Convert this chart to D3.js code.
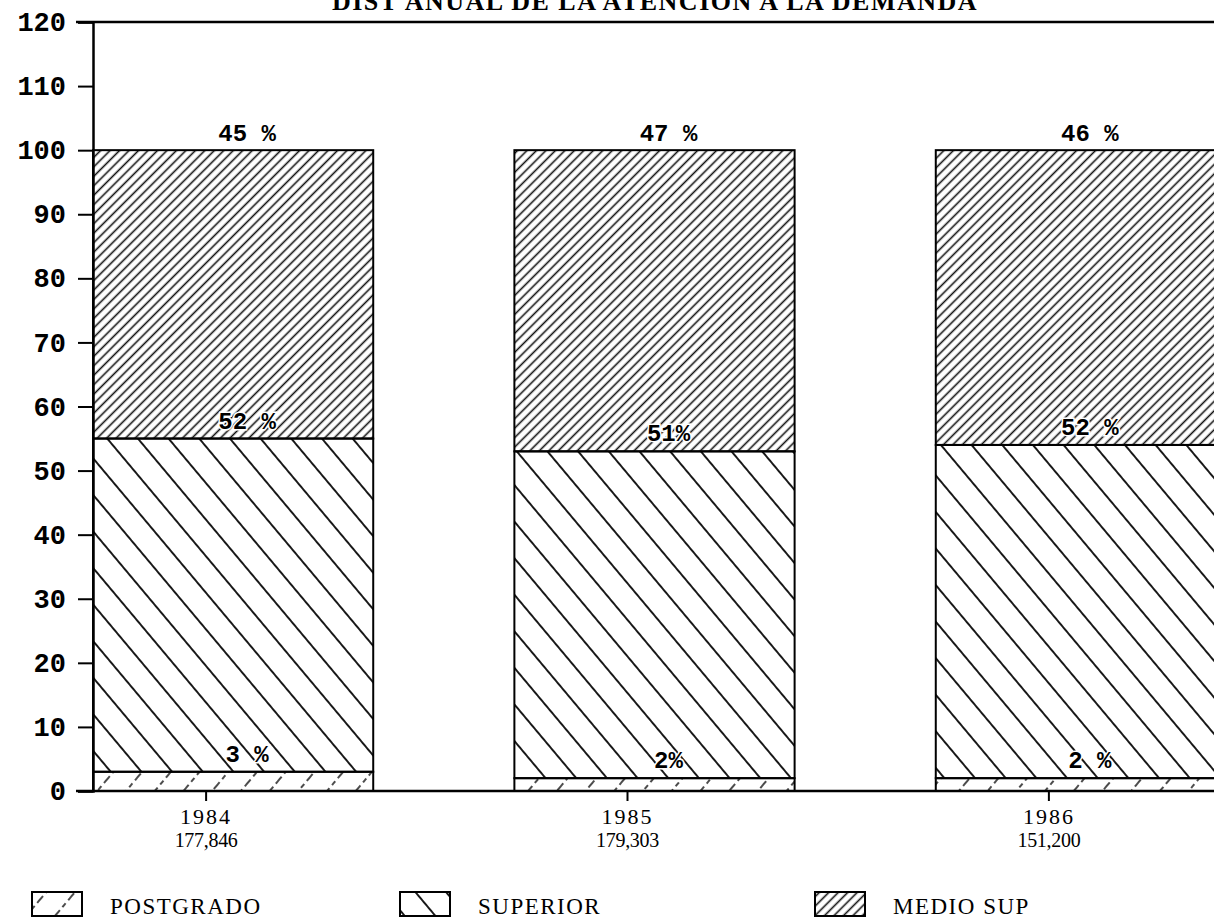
<!DOCTYPE html>
<html>
<head>
<meta charset="utf-8">
<script src="https://cdn.jsdelivr.net/npm/d3@7"></script>
<style>
  body { margin: 0; background: #fff; }
  svg { display: block; }
</style>
</head>
<body>
<svg id="chart" width="1214" height="919"></svg>
<script>
// data
const years = ["1984", "1985", "1986"];
const totals = ["177,846", "179,303", "151,200"];
const postgrado = [3, 2, 2];
const superior = [52, 51, 52];
const medioSup = [45, 47, 46];
const seriesNames = ["POSTGRADO", "SUPERIOR", "MEDIO SUP"];
const pctLabels = [
  ["3 %", "2%", "2 %"],
  ["52 %", "51%", "52 %"],
  ["45 %", "47 %", "46 %"]
];
const yTicks = [0, 10, 20, 30, 40, 50, 60, 70, 80, 90, 100, 110, 120];
const title = "DIST ANUAL DE LA ATENCION A LA DEMANDA";

const svg = d3.select("#chart");
const margin = { left: 93, top: 22, bottom: 791 };

// rows for d3.stack
const rows = years.map((yr, i) => ({
  year: yr,
  "POSTGRADO": postgrado[i],
  "SUPERIOR": superior[i],
  "MEDIO SUP": medioSup[i]
}));
const stacked = d3.stack().keys(seriesNames)(rows);

const y = d3.scaleLinear().domain([0, 120]).range([margin.bottom, margin.top]);
const x = d3.scaleBand().domain(years)
            .range([margin.left, 1216])
            .paddingInner(0.335)
            .paddingOuter(0);

// hatch patterns, like the old plotter fills
const defs = svg.append("defs");
function hatch(id, size, angle, width, dash) {
  const p = defs.append("pattern")
      .attr("id", id)
      .attr("patternUnits", "userSpaceOnUse")
      .attr("width", size)
      .attr("height", size)
      .attr("patternTransform", `rotate(${angle})`);
  p.append("line")
      .attr("x1", size / 2).attr("y1", 0)
      .attr("x2", size / 2).attr("y2", size)
      .attr("stroke", "#111")
      .attr("stroke-width", width)
      .attr("stroke-dasharray", dash || null);
}
hatch("h-post", 22, 40, 1.5, "5,4");
hatch("h-sup", 23.5, -40, 1.9);
hatch("h-medio", 6.7, 45, 1.6, "9,2");
const fills = { "POSTGRADO": "url(#h-post)", "SUPERIOR": "url(#h-sup)", "MEDIO SUP": "url(#h-medio)" };

// title, cut off by the top of the scan
svg.append("text")
   .attr("x", 655).attr("y", 10)
   .attr("text-anchor", "middle")
   .style("font-family", "Liberation Serif")
   .style("font-weight", "bold")
   .style("font-size", "26px")
   .style("letter-spacing", "1.5px")
   .text(title);

// bars
const layers = svg.append("g").selectAll("g")
   .data(stacked)
   .join("g")
   .attr("fill", d => fills[d.key]);

layers.selectAll("rect")
   .data(d => d)
   .join("rect")
   .attr("x", d => x(d.data.year))
   .attr("y", d => y(d[1]))
   .attr("width", x.bandwidth())
   .attr("height", d => y(d[0]) - y(d[1]))
   .attr("stroke", "#000")
   .attr("stroke-width", 2);

// percent labels just above each segment top
stacked.forEach((s, si) => {
  svg.append("g").selectAll("text")
     .data(s)
     .join("text")
     .attr("x", d => x(d.data.year) + x.bandwidth() / 2 + 14)
     .attr("y", d => y(d[1]) - (si === 2 ? 9 : 10))
     .attr("text-anchor", "middle")
     .style("font-family", "Liberation Mono")
     .style("font-weight", "bold")
     .style("font-size", "24px")
     .style("paint-order", "stroke")
     .style("stroke", si === 2 ? "none" : "#fff")
     .style("stroke-width", 3)
     .text((d, i) => pctLabels[si][i]);
});

// frame: top line and baseline
svg.append("line")
   .attr("x1", 76).attr("x2", 1214)
   .attr("y1", y(120)).attr("y2", y(120))
   .attr("stroke", "#000").attr("stroke-width", 2.5);
svg.append("line")
   .attr("x1", 76).attr("x2", 1214)
   .attr("y1", y(0)).attr("y2", y(0))
   .attr("stroke", "#000").attr("stroke-width", 2.5);

// y axis
const yAxis = svg.append("g")
   .attr("transform", `translate(${margin.left},0)`)
   .call(d3.axisLeft(y).tickValues(yTicks).tickSize(15).tickPadding(12));
yAxis.select(".domain").attr("stroke-width", 2.5);
yAxis.selectAll(".tick line").attr("stroke-width", 2);
yAxis.selectAll(".tick text")
   .style("font-family", "Liberation Mono")
   .style("font-weight", "bold")
   .style("font-size", "27px")
   .attr("fill", "#000");

// x ticks and two-line labels, slightly left of bar centre as in the scan
const xLab = svg.append("g").selectAll("g")
   .data(years)
   .join("g")
   .attr("transform", d => `translate(${x(d) + x.bandwidth() / 2 - 27},${y(0)})`);
xLab.append("line")
   .attr("y1", 0).attr("y2", 10)
   .attr("stroke", "#000").attr("stroke-width", 2);
xLab.append("text")
   .attr("y", 33)
   .attr("text-anchor", "middle")
   .style("font-family", "Liberation Serif")
   .style("font-size", "22px")
   .style("letter-spacing", "2px")
   .text(d => d);
xLab.append("text")
   .attr("y", 56)
   .attr("text-anchor", "middle")
   .style("font-family", "Liberation Serif")
   .style("font-size", "20px")
   .style("letter-spacing", "-0.3px")
   .text((d, i) => totals[i]);

// legend
const legendX = [32, 400, 815];
const leg = svg.append("g").selectAll("g")
   .data(seriesNames)
   .join("g")
   .attr("transform", (d, i) => `translate(${legendX[i]},892)`);
leg.append("rect")
   .attr("width", 50).attr("height", 24)
   .attr("fill", d => fills[d])
   .attr("stroke", "#000").attr("stroke-width", 2);
leg.append("text")
   .attr("x", 78).attr("y", 22)
   .style("font-family", "Liberation Serif")
   .style("font-size", "23px")
   .style("letter-spacing", "1.5px")
   .text(d => d);
</script>
</body>
</html>
